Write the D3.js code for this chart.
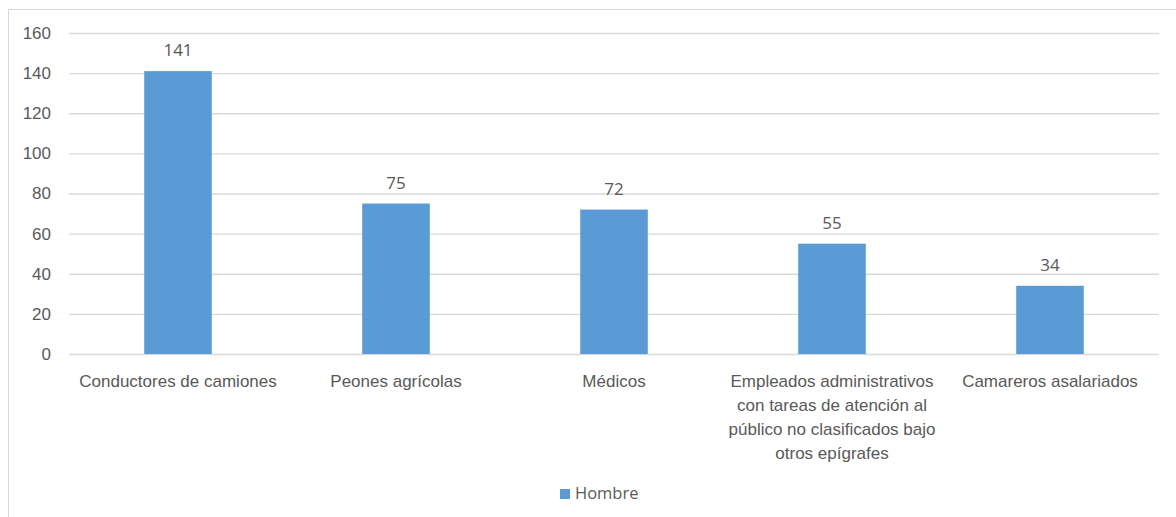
<!DOCTYPE html>
<html>
<head>
<meta charset="utf-8">
<script src="https://cdn.jsdelivr.net/npm/d3@7"></script>
<style>
  body { margin: 0; background: #fff; }
  svg { display: block; font-family: "Open Sans", sans-serif; }
  .axis text, .label, .legend text { fill: #595959; }
</style>
</head>
<body>
<svg width="1176" height="517"></svg>
<script>
var categories = ["Conductores de camiones", "Peones agrícolas", "Médicos",
    "Empleados administrativos con tareas de atención al público no clasificados bajo otros epígrafes",
    "Camareros asalariados"];
var hombre = [141, 75, 72, 55, 34];
var yTicks = [0, 20, 40, 60, 80, 100, 120, 140, 160];
var seriesName = "Hombre";

var svg = d3.select("svg"),
    margin = {top: 33, right: 17, bottom: 163, left: 69},
    width = 1176 - margin.left - margin.right,
    height = 517 - margin.top - margin.bottom;

// outer chart border (runs off the right and bottom edges)
svg.append("rect")
    .attr("x", 8.5).attr("y", 9.5)
    .attr("width", 1200).attr("height", 600)
    .attr("fill", "none")
    .attr("stroke", "#d9d9d9");

var g = svg.append("g").attr("transform", "translate(" + margin.left + "," + margin.top + ")");

var x = d3.scaleBand()
    .domain(categories)
    .range([0, width])
    .paddingInner(0.69)
    .paddingOuter(0.345);
var y = d3.scaleLinear()
    .domain([0, 160])
    .range([height, 0]);

// gridlines
g.append("g")
    .selectAll("line")
    .data(yTicks)
    .enter()
    .append("line")
    .attr("x1", 0).attr("x2", width)
    .attr("y1", function(d) { return y(d) + 0.5; })
    .attr("y2", function(d) { return y(d) + 0.5; })
    .attr("stroke", "#d9d9d9")
    .attr("stroke-width", 1.3);

var yAxis = d3.axisLeft(y).tickValues(yTicks).tickSize(0).tickPadding(18);
g.append("g")
    .attr("class", "y axis")
    .call(yAxis)
    .call(function(s) { s.select(".domain").remove(); })
    .selectAll("text")
    .style("font-size", "17px");

g.selectAll(".bar")
    .data(hombre)
    .enter()
    .append("rect")
    .attr("class", "bar")
    .attr("x", function(d, i) { return x(categories[i]); })
    .attr("y", function(d) { return y(d); })
    .attr("width", x.bandwidth())
    .attr("height", function(d) { return height - y(d); })
    .attr("fill", "#5b9bd5");

g.selectAll(".label")
    .data(hombre)
    .enter()
    .append("text")
    .attr("class", "label")
    .attr("x", function(d, i) { return x(categories[i]) + x.bandwidth() / 2; })
    .attr("y", function(d) { return y(d) - 15; })
    .attr("text-anchor", "middle")
    .style("font-size", "17px")
    .text(function(d) { return d; });

var xAxis = d3.axisBottom(x).tickSize(0).tickPadding(0);
g.append("g")
    .attr("class", "x axis")
    .attr("transform", "translate(0," + height + ")")
    .call(xAxis)
    .call(function(s) { s.select(".domain").remove(); })
    .selectAll("text")
    .style("font-size", "17px")
    .call(wrap, x.step());

function wrap(texts, maxWidth) {
    texts.each(function() {
        var text = d3.select(this),
            words = text.text().split(/\s+/),
            line = [],
            lineNo = 0,
            tspan = text.text(null).attr("dy", null)
                .append("tspan").attr("x", 0).attr("y", 33);
        words.forEach(function(w) {
            line.push(w);
            tspan.text(line.join(" "));
            if (tspan.node().getComputedTextLength() > maxWidth && line.length > 1) {
                line.pop();
                tspan.text(line.join(" "));
                line = [w];
                lineNo++;
                tspan = text.append("tspan").attr("x", 0)
                    .attr("y", 33 + lineNo * 24).text(w);
            }
        });
    });
}

// legend
var legend = svg.append("g").attr("class", "legend");
legend.append("rect")
    .attr("x", 560).attr("y", 489)
    .attr("width", 10).attr("height", 10)
    .attr("fill", "#5b9bd5");
legend.append("text")
    .attr("x", 575).attr("y", 499)
    .style("font-size", "16.5px")
    .text(seriesName);
</script>
</body>
</html>
